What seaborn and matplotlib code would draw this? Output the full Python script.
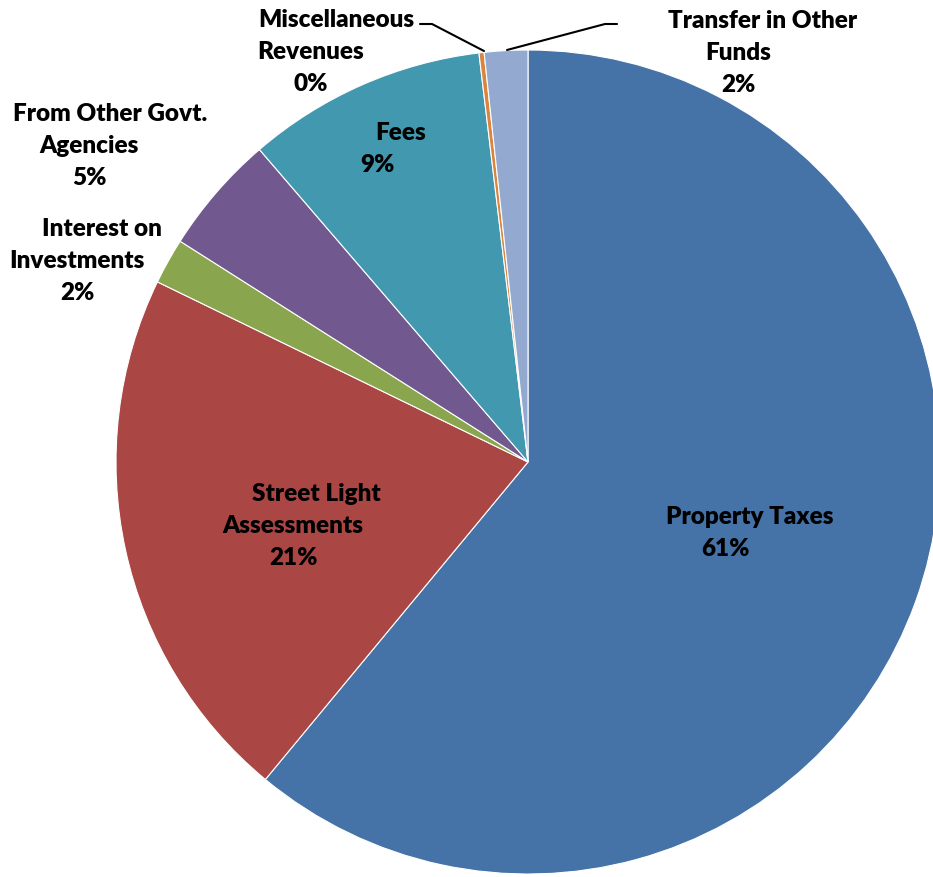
import matplotlib
matplotlib.use("Agg")
import matplotlib.pyplot as plt
import seaborn as sns

# revenue sources, clockwise from 12 o'clock
categories = ['Property Taxes', 'Street Light Assessments', 'Interest on Investments',
              'From Other Govt. Agencies', 'Fees', 'Miscellaneous Revenues',
              'Transfer in Other Funds']
shares = [61.0, 21.2, 1.8, 4.7, 9.4, 0.2, 1.7]
colors = ['#4572A7', '#AA4643', '#89A54E', '#71588F', '#4198AF', '#DB843D', '#93A9CF']

# how each label is broken into lines (percentage is added as the last line)
label_lines = [
    ['Property Taxes'],
    ['Street Light', 'Assessments'],
    ['Interest on', 'Investments'],
    ['From Other Govt.', 'Agencies'],
    ['Fees'],
    ['Miscellaneous', 'Revenues'],
    ['Transfer in Other', 'Funds'],
]

sns.set_theme(style='white')
plt.rcParams['font.family'] = ['Lato', 'DejaVu Sans']

W, H = 933, 878
fig = plt.figure(figsize=(W / 100, H / 100), dpi=100)
ax = fig.add_axes([0, 0, 1, 1])

# pixel-like data coords, y flipped so angles run clockwise on screen
ax.pie(shares, colors=colors, startangle=-90, counterclock=True,
       center=(528, 463), radius=412, frame=True,
       wedgeprops=dict(edgecolor='white', linewidth=0.8))
ax.set_xlim(0, W)
ax.set_ylim(H, 0)
ax.set_aspect('equal')
ax.axis('off')

total = sum(shares)
pcts = [f"{v / total * 100:.0f}%" for v in shares]

# (x of first line, x of other lines, y of first line) per label, in pixels
label_pos = [
    (750, 725, 517),
    (316, 293, 494),
    (102, 77, 229),
    (110, 89, 114),
    (401, 377, 133),
    (336, 311, 20),
    (763, 738, 21),
]
line_h = 32

for lines, pct, (x1, x2, y0) in zip(label_lines, pcts, label_pos):
    for i, row in enumerate(lines + [pct]):
        ax.text(x1 if i == 0 else x2, y0 + i * line_h, row,
                ha='center', va='center', fontsize=17.5,
                fontweight='heavy', color='black')

# leader lines for the two thin slices
ax.plot([420, 432, 484], [25, 25, 52], color='black', lw=1.5)
ax.plot([617, 605, 507], [25, 25, 51], color='black', lw=1.5)

fig.savefig('out.png', dpi=100)
